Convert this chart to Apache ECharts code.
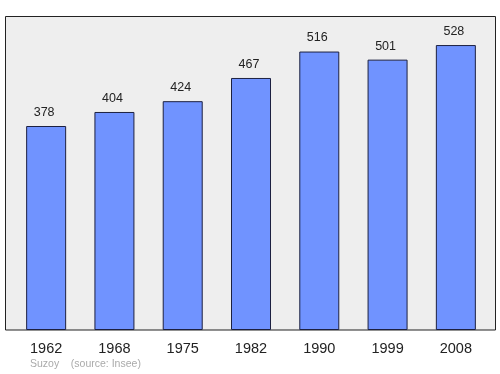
<!DOCTYPE html>
<html>
<head>
<meta charset="utf-8">
<script src="https://cdn.jsdelivr.net/npm/echarts@6/dist/echarts.min.js"></script>
<style>html,body{margin:0;padding:0;background:#fff}#c{width:500px;height:374px}</style>
</head>
<body>
<div id="c"></div>
<script>
const years = ['1962','1968','1975','1982','1990','1999','2008'];
const population = [378, 404, 424, 467, 516, 501, 528];
const sourceText = 'Suzoy    (source: Insee)';

const chart = echarts.init(document.getElementById('c'), null, {renderer:'canvas'});
chart.setOption({
  animation: false,
  backgroundColor: '#ffffff',
  textStyle: {fontFamily: 'Liberation Sans, Arial, sans-serif'},
  graphic: [
    {type:'rect', z:-10, shape:{x:5.5, y:16.5, width:490, height:313.5},
     style:{fill:'#eeeeee', stroke:'#222222', lineWidth:1}},
    {type:'text', left:30, top:359, style:{text:sourceText, fill:'#aaaaaa', font:'10.5px Liberation Sans, Arial, sans-serif'}}
  ],
  grid: {left:12, right:10, top:17, bottom:44},
  xAxis: {
    type:'category', data: years,
    axisLine:{show:false}, axisTick:{show:false},
    axisLabel:{color:'#222', fontSize:14.5, margin:11, fontFamily:'Liberation Sans, Arial, sans-serif'}
  },
  yAxis: {
    type:'value', min:0, max:580,
    show:false, splitLine:{show:false}
  },
  series: [{
    type:'bar', data: population, barWidth:40,
    itemStyle:{color:'#7093ff', borderColor:'#1c2040', borderWidth:1},
    label:{show:true, position:'top', distance:7, offset:[-2,0], color:'#222', fontSize:12.5, fontFamily:'Liberation Sans, Arial, sans-serif'}
  }]
});
</script>
</body>
</html>
